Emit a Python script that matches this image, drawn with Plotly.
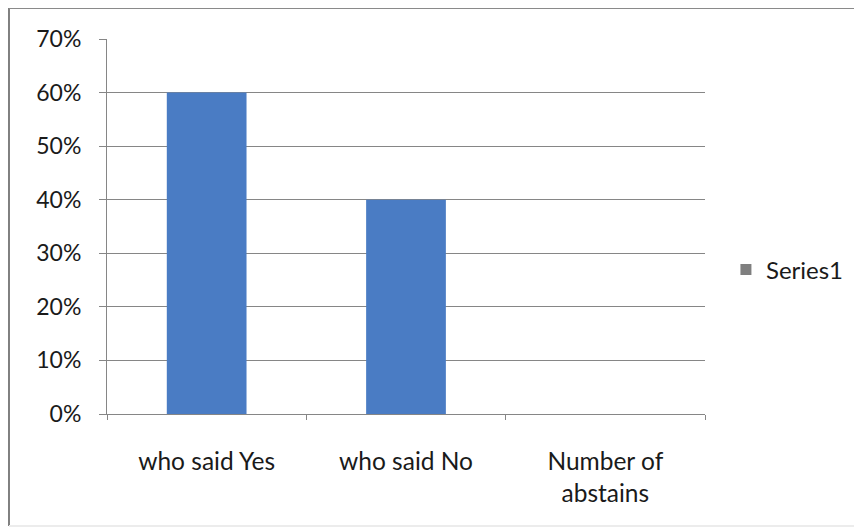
import plotly.graph_objects as go

categories = ["who said Yes", "who said No", "Number of<br>abstains"]
values = [0.60, 0.40, 0.0]
series_name = "Series1"
y_ticks = [0, 0.1, 0.2, 0.3, 0.4, 0.5, 0.6, 0.7]

GRID = "#868686"

fig = go.Figure()
fig.add_trace(go.Bar(
    x=categories, y=values, name=series_name, showlegend=False,
    marker=dict(color="#4a7cc4", line=dict(width=0)),
))
# legend swatch only (reference shows a grey square)
fig.add_trace(go.Scatter(
    x=[None], y=[None], mode="markers", name=series_name,
    marker=dict(symbol="square", size=11, color="#7f7f7f"),
))

# page body has an 8px margin, so the figure is shrunk by that much
fig.update_layout(
    width=854, height=521,
    margin=dict(l=99, r=157, t=31, b=115),
    paper_bgcolor="white", plot_bgcolor="white",
    font=dict(family="Lato, 'Open Sans', sans-serif", size=23, color="#1a1a1a"),
    bargap=0.6,
    legend=dict(x=1.035, y=0.384, yanchor="middle", xanchor="left",
                font=dict(size=24), itemwidth=30, bgcolor="rgba(0,0,0,0)"),
    shapes=[
        dict(type="line", xref="paper", yref="paper", x0=-0.1639, x1=-0.1639,
             y0=-0.2987, y1=1.0827, line=dict(color="#808080", width=2)),
        dict(type="line", xref="paper", yref="paper", x0=-0.1639, x1=1.2525,
             y0=1.0827, y1=1.0827, line=dict(color="#8a8a8a", width=2)),
        dict(type="line", xref="paper", yref="paper", x0=1.2525, x1=1.2525,
             y0=-0.2987, y1=1.0827, line=dict(color="#ececec", width=2)),
        dict(type="line", xref="paper", yref="paper", x0=-0.1639, x1=1.2525,
             y0=-0.2987, y1=-0.2987, line=dict(color="#ececec", width=2)),
    ],
)
fig.update_yaxes(
    range=[0, 0.7], tickvals=y_ticks, tickformat=".0%",
    showgrid=True, gridcolor=GRID, gridwidth=1,
    showline=True, linecolor=GRID, ticks="outside", ticklen=7,
    tickcolor=GRID, zeroline=False, ticklabelstandoff=13,
    tickfont=dict(size=23),
)
fig.update_xaxes(
    showline=True, linecolor=GRID, ticks="outside", ticklen=5,
    tickcolor=GRID, tickson="boundaries", showgrid=False,
    ticklabelstandoff=26, tickfont=dict(size=24.5),
)

fig.write_html("out.html")
